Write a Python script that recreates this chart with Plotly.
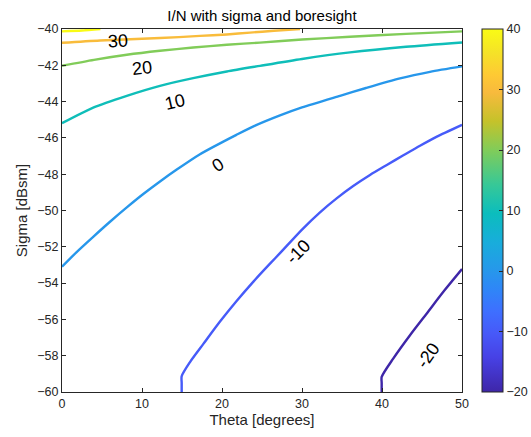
import plotly.graph_objects as go
from plotly.colors import sample_colorscale

# ---- data ----
levels = [-20, -10, 0, 10, 20, 30, 40]

theta_m20 = [39.96, 39.96, 39.96, 41.4, 43.5, 45.6, 47.67, 50.0]
sigma_m20 = [-60.0, -59.5, -59.17, -58.16, -56.87, -55.67, -54.48, -53.23]

theta_m10 = [14.96, 14.96, 14.96, 16.0, 17.67, 19.75, 21.8, 23.9, 26.0, 27.25, 30.0,
             32.25, 34.33, 36.4, 38.5, 40.6, 42.67, 44.75, 46.8, 50.0]
sigma_m10 = [-60.0, -59.5, -59.13, -58.35, -57.35, -56.12, -55.0, -53.93, -52.93, -52.35, -51.05,
             -50.1, -49.33, -48.65, -48.04, -47.49, -46.96, -46.43, -45.94, -45.28]

theta_0 = [0.0, 1.83, 3.9, 6.0, 8.1, 10.2, 12.25, 14.3, 17.25, 19.75, 21.8, 24.0, 27.25,
           30.0, 34.75, 38.0, 42.25, 46.0, 50.0]
sigma_0 = [-53.10, -52.29, -51.45, -50.62, -49.83, -49.08, -48.4, -47.76, -46.9, -46.3,
           -45.83, -45.35, -44.76, -44.32, -43.68, -43.25, -42.72, -42.36, -42.06]

theta_10 = [0.0, 3.9, 8.1, 12.25, 16.4, 20.6, 24.75, 30.0, 36.0, 43.0, 50.0]
sigma_10 = [-45.19, -44.33, -43.68, -43.13, -42.71, -42.34, -42.03, -41.65, -41.29, -40.98, -40.74]

theta_20 = [0.0, 4.0, 8.1, 12.25, 16.4, 20.6, 24.75, 30.0, 36.0, 43.0, 50.0]
sigma_20 = [-42.03, -41.7, -41.42, -41.2, -41.02, -40.87, -40.75, -40.58, -40.43, -40.27, -40.13]

theta_30 = [0.0, 4.75, 12.25, 17.25, 20.6, 23.5, 26.5, 29.75]
sigma_30 = [-40.76, -40.63, -40.5, -40.38, -40.3, -40.2, -40.1, -40.0]

theta_40 = [0.0, 2.5, 4.8]
sigma_40 = [-40.13, -40.08, -40.0]

contour_theta = [theta_m20, theta_m10, theta_0, theta_10, theta_20, theta_30, theta_40]
contour_sigma = [sigma_m20, sigma_m10, sigma_0, sigma_10, sigma_20, sigma_30, sigma_40]

label_levels = [30, 20, 10, 0, -10, -20]
label_theta = [7.04, 9.96, 14.1, 19.5, 29.5, 45.8]
label_sigma = [-40.68, -42.15, -44.03, -47.49, -52.27, -57.97]
label_angle = [-3, -6, -13, -33, -45, -55]

x_ticks = [0, 10, 20, 30, 40, 50]
y_ticks = [-60, -58, -56, -54, -52, -50, -48, -46, -44, -42, -40]
cbar_ticks = [-20, -10, 0, 10, 20, 30, 40]

# ---- style ----
parula_rows = [
    (0.2422, 0.1504, 0.6603), (0.2783, 0.2559, 0.8991), (0.2795, 0.3447, 0.9717),
    (0.2440, 0.4358, 0.9988), (0.1786, 0.5289, 0.9682), (0.1540, 0.5902, 0.9218),
    (0.0952, 0.6798, 0.8598), (0.0433, 0.7411, 0.7394), (0.2161, 0.7843, 0.5923),
    (0.5044, 0.7993, 0.3480), (0.7738, 0.7598, 0.1646), (0.9728, 0.7298, 0.2394),
    (0.9952, 0.7893, 0.2028), (0.9610, 0.8890, 0.1537), (0.9769, 0.9839, 0.0805)]
parula_pos = [0, 6, 10, 14, 18, 21, 26, 31, 36, 42, 47, 52, 55, 59, 63]
parula = [[p / 63.0, "rgb(%d,%d,%d)" % tuple(round(c * 255) for c in rgb)]
          for p, rgb in zip(parula_pos, parula_rows)]
cmin, cmax = min(cbar_ticks), max(cbar_ticks)

axis_col = "#262626"
font_fam = "Liberation Sans, Arial, sans-serif"

fig = go.Figure()
for lev, th, sg in zip(levels, contour_theta, contour_sigma):
    col = sample_colorscale(parula, [(lev - cmin) / (cmax - cmin)])[0]
    fig.add_trace(go.Scatter(x=th, y=sg, mode="lines",
                             line=dict(color=col, width=2.4, shape="spline", smoothing=0.7),
                             showlegend=False, hoverinfo="skip", cliponaxis=True))

# colorbar carrier
fig.add_trace(go.Scatter(
    x=[-10], y=[-70], mode="markers", showlegend=False, hoverinfo="skip",
    marker=dict(color=[0], colorscale=parula, cmin=cmin, cmax=cmax, size=1,
                showscale=True,
                colorbar=dict(x=1.049, xanchor="left", xref="paper", y=0.5, yanchor="middle",
                              len=1.0, lenmode="fraction", thickness=21, thicknessmode="pixels",
                              xpad=0, ypad=0, outlinewidth=1, outlinecolor=axis_col,
                              tickvals=cbar_ticks, ticks="inside", ticklen=4,
                              tickcolor=axis_col, tickfont=dict(size=12.5, color=axis_col,
                                                                family=font_fam)))))

for lev, th, sg, ang in zip(label_levels, label_theta, label_sigma, label_angle):
    fig.add_annotation(x=th, y=sg, text=str(lev), showarrow=False, textangle=ang,
                       font=dict(size=18, color="black", family=font_fam))

fig.update_layout(
    width=531, height=437,
    margin=dict(l=62, r=69, t=29, b=45, autoexpand=False),
    paper_bgcolor="white", plot_bgcolor="white",
    font=dict(family=font_fam, color=axis_col),
    title=dict(text="I/N with sigma and boresight", x=0.5, xref="paper", xanchor="center",
               y=1 - 16 / 437, yref="container", yanchor="middle",
               font=dict(size=15, color="black", family=font_fam)),
)
fig.update_xaxes(range=[0, 50], tickvals=x_ticks, ticks="inside", ticklen=4,
                 tickcolor=axis_col, showline=True, linecolor=axis_col, linewidth=1,
                 mirror="ticks", showgrid=False, zeroline=False, automargin=False,
                 tickfont=dict(size=12.5, color=axis_col),
                 title=dict(text="Theta [degrees]", font=dict(size=15, color=axis_col),
                            standoff=4))
fig.update_yaxes(range=[-60, -40], tickvals=y_ticks, ticks="inside", ticklen=4,
                 tickcolor=axis_col, showline=True, linecolor=axis_col, linewidth=1,
                 mirror="ticks", showgrid=False, zeroline=False, automargin=False,
                 tickfont=dict(size=12.5, color=axis_col),
                 title=dict(text="Sigma [dBsm]", font=dict(size=15, color=axis_col),
                            standoff=6))

fig.write_html("out.html", config={"displayModeBar": False},
               post_script="document.body.style.margin='0';")
